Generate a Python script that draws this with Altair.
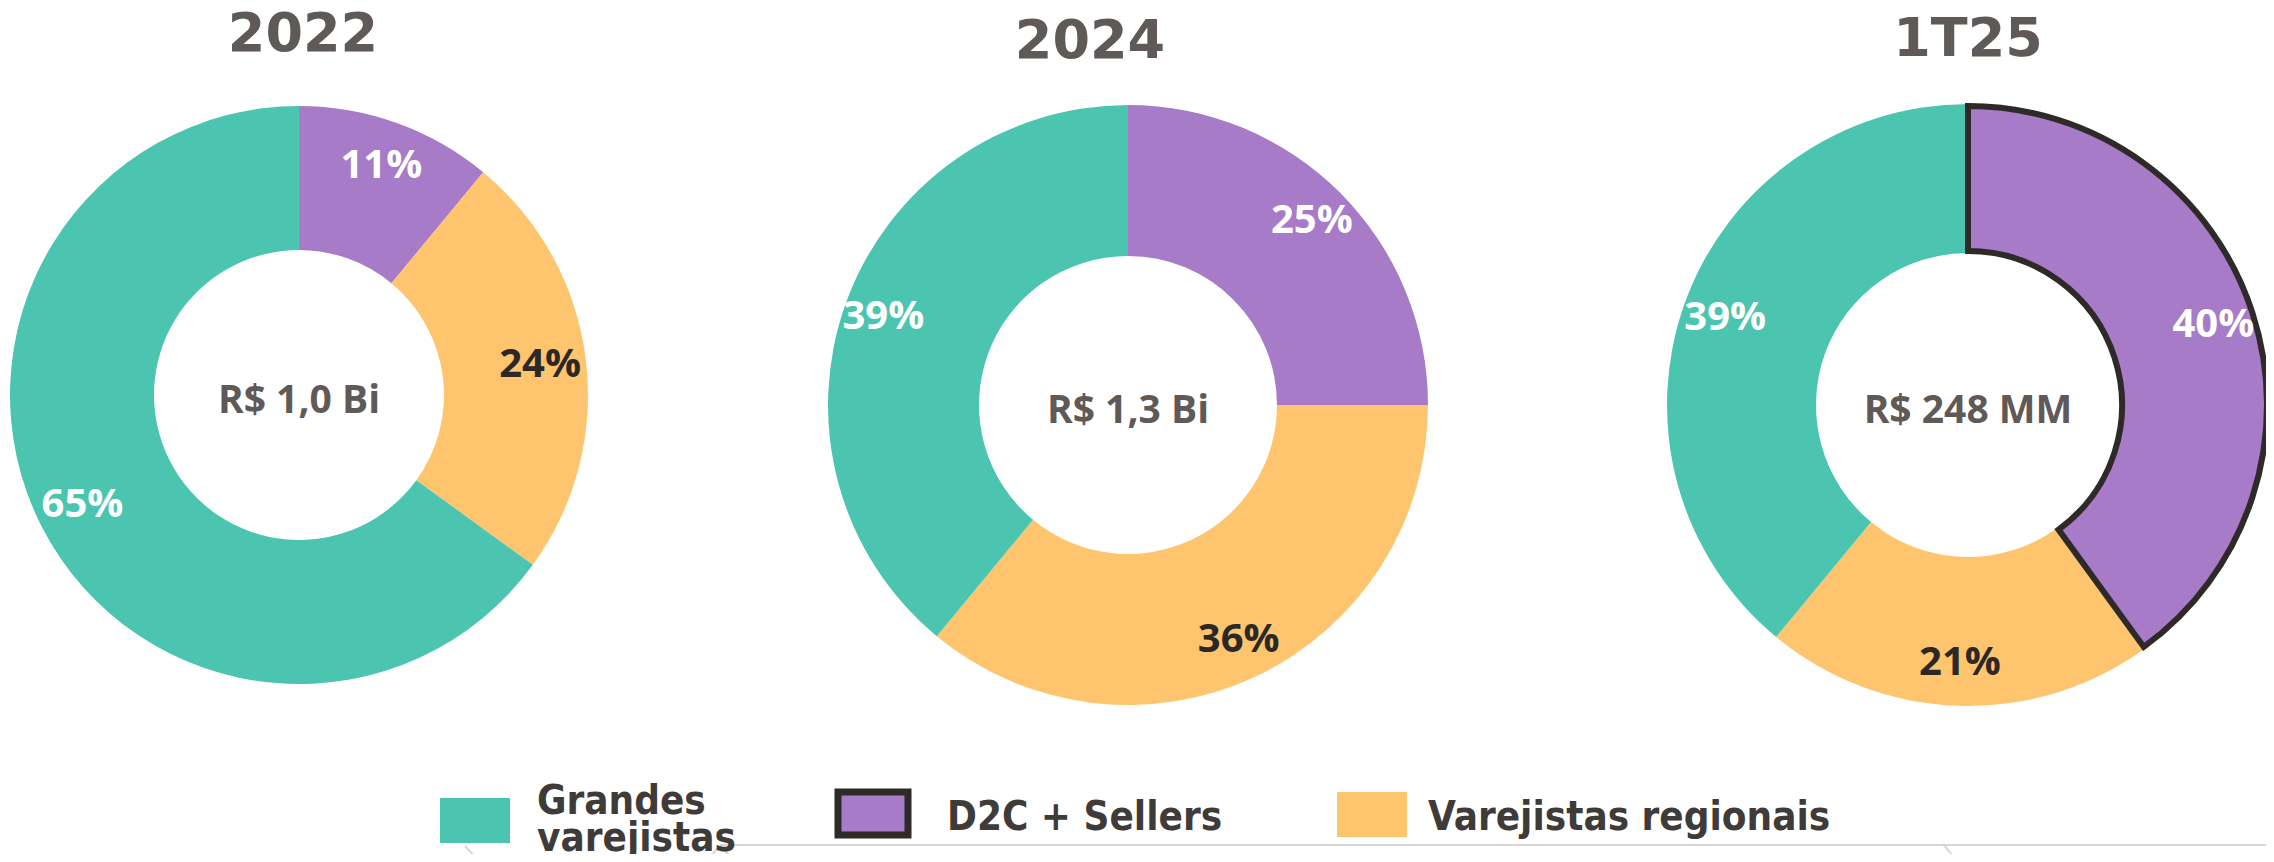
import altair as alt
import pandas as pd

# ---- data ----
categories = ["D2C + Sellers", "Varejistas regionais", "Grandes varejistas"]
colors = ["#A77BC8", "#FEC46E", "#4BC5B0"]
periods = ["2022", "2024", "1T25"]
totals = ["R$ 1,0 Bi", "R$ 1,3 Bi", "R$ 248 MM"]
share_2022 = [11, 24, 65]
share_2024 = [25, 36, 39]
share_1t25 = [40, 21, 39]
legend_order = ["Grandes varejistas", "D2C + Sellers", "Varejistas regionais"]

TITLE_COLOR = "#5F5A57"
DARK = "#2B2826"
LEGEND_TEXT = "#3F3B38"
LABEL_FONT = "Open Sans"
TITLE_FONT = "DejaVu Sans"
LEGEND_FONT = "DejaVu Sans Condensed, DejaVu Sans"

color_scale = alt.Scale(domain=categories, range=colors)
theta_scale = alt.Scale(domain=[0, 100])


def donut(shares, total, title, cx, cy, r_out, r_in, r_lab, tx, ty, highlight=False):
    df = pd.DataFrame({
        "categoria": categories,
        "share": shares,
        "ordem": list(range(len(categories))),
        "rotulo": [f"{v}%" for v in shares],
    })
    base = alt.Chart(df).encode(
        theta=alt.Theta("share:Q", stack=True, scale=theta_scale),
        order=alt.Order("ordem:Q"),
        x=alt.value(cx),
        y=alt.value(cy),
    )
    arcs = base.mark_arc(outerRadius=r_out, innerRadius=r_in).encode(
        color=alt.Color("categoria:N", scale=color_scale, legend=None)
    )
    layers = [arcs]
    if highlight:
        hl = (
            alt.Chart(df)
            .transform_filter(alt.datum.categoria == categories[0])
            .mark_arc(outerRadius=r_out - 2, innerRadius=r_in + 2, fill=colors[0],
                      stroke="#2D2A28", strokeWidth=6, strokeJoin="miter")
            .encode(
                theta=alt.Theta("share:Q", stack=True, scale=theta_scale),
                order=alt.Order("ordem:Q"),
                x=alt.value(cx),
                y=alt.value(cy),
            )
        )
        layers.append(hl)
    labels = base.mark_text(radius=r_lab, font=LABEL_FONT, fontWeight="bold",
                            fontSize=40, baseline="middle", align="center").encode(
        text="rotulo:N",
        color=alt.condition(
            "datum.categoria == 'Varejistas regionais'",
            alt.value(DARK),
            alt.value("#FFFFFF"),
        ),
    )
    layers.append(labels)
    center = alt.Chart(pd.DataFrame({"t": [total]})).mark_text(
        font=LABEL_FONT, fontWeight="bold", fontSize=39, color=TITLE_COLOR,
        baseline="middle", align="center"
    ).encode(text="t:N", x=alt.value(cx), y=alt.value(cy + 6))
    layers.append(center)
    head = alt.Chart(pd.DataFrame({"t": [title]})).mark_text(
        font=TITLE_FONT, fontWeight="bold", fontSize=54, color=TITLE_COLOR,
        baseline="alphabetic", align="center"
    ).encode(text="t:N", x=alt.value(tx), y=alt.value(ty))
    layers.append(head)
    return layers


layers = []
layers += donut(share_2022, totals[0], periods[0], 291, 387, 289, 145, 243, 295, 43)
layers += donut(share_2024, totals[1], periods[1], 1120, 397, 300, 149, 260, 1082, 50)
layers += donut(share_1t25, totals[2], periods[2], 1960, 397, 301, 152, 258, 1960, 48, highlight=True)

# ---- decorative slide lines ----
one = pd.DataFrame({"k": [0]})
deco = alt.Chart(one).mark_rule(color="#D6D6D6", strokeWidth=2)
layers.append(deco.encode(x=alt.value(712), x2=alt.value(2266), y=alt.value(837)))
layers.append(deco.encode(x=alt.value(457), x2=alt.value(472), y=alt.value(838), y2=alt.value(854)))
layers.append(deco.encode(x=alt.value(712), x2=alt.value(697), y=alt.value(838), y2=alt.value(854)))
layers.append(deco.encode(x=alt.value(712), x2=alt.value(727), y=alt.value(838), y2=alt.value(854)))
layers.append(deco.encode(x=alt.value(1935), x2=alt.value(1950), y=alt.value(836), y2=alt.value(854)))

# ---- legend (manual) ----
color_of = dict(zip(categories, colors))
leg_rects = [
    (legend_order[0], 432, 502, 790, 835, None),
    (legend_order[1], 830, 900, 784, 827, "#2D2A28"),
    (legend_order[2], 1329, 1399, 784, 829, None),
]
leg_texts = [
    (legend_order[0], 529, 806, " "),
    (legend_order[1], 939, 822, None),
    (legend_order[2], 1420, 822, None),
]
for name, x1, x2, y1, y2, stroke in leg_rects:
    kw = dict(fill=color_of[name])
    if stroke:
        kw.update(stroke=stroke, strokeWidth=7, strokeJoin="miter")
    layers.append(
        alt.Chart(pd.DataFrame({"c": [name]})).mark_rect(**kw).encode(
            x=alt.value(x1), x2=alt.value(x2), y=alt.value(y1), y2=alt.value(y2)
        )
    )
for name, x1, yb, brk in leg_texts:
    kw = dict(font=LEGEND_FONT, fontWeight="bold", fontSize=40, color=LEGEND_TEXT,
              align="left", baseline="alphabetic")
    if brk:
        kw.update(lineBreak=brk, lineHeight=37)
    layers.append(
        alt.Chart(pd.DataFrame({"c": [name]})).mark_text(**kw).encode(
            text="c:N", x=alt.value(x1), y=alt.value(yb)
        )
    )

chart = (
    alt.layer(*layers)
    .properties(width=2258, height=846, autosize=alt.AutoSizeParams(type="none"), padding=0)
    .configure_view(stroke=None)
)

chart.save("out.html", embed_options={"renderer": "svg", "actions": False})
